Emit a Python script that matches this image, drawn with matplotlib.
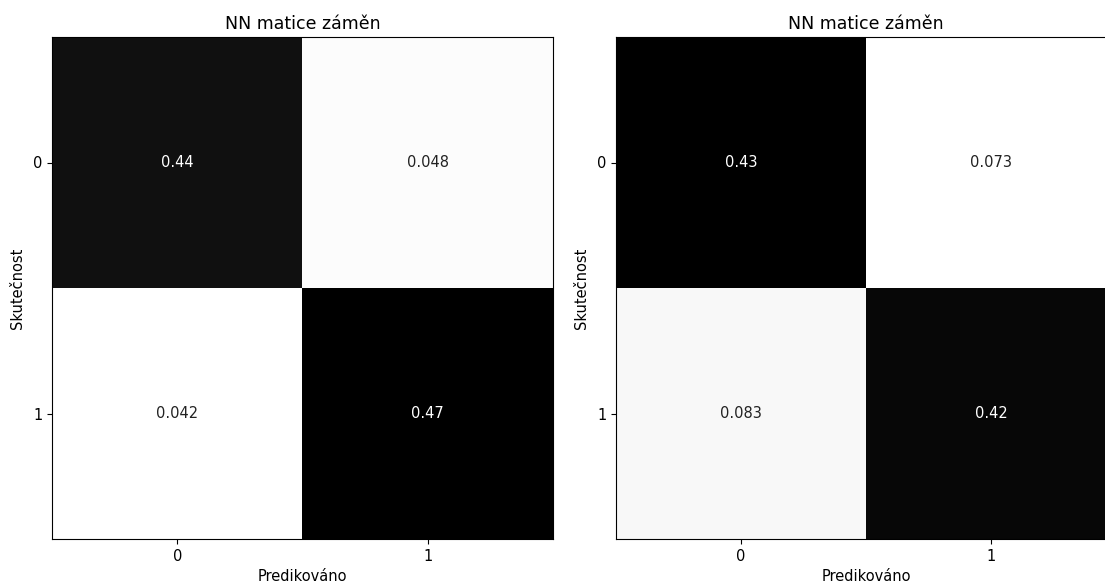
import numpy as np
import matplotlib
matplotlib.use('Agg')
import matplotlib.pyplot as plt

labels = ['0', '1']
# normalized confusion matrices (rows = actual, cols = predicted)
cm_left = np.array([[0.44, 0.048],
                    [0.042, 0.47]])
cm_right = np.array([[0.43, 0.073],
                     [0.083, 0.42]])
title = 'NN matice záměn'

plt.rcParams['font.size'] = 10.5

fig = plt.figure(figsize=(11.05, 5.86), dpi=100)
ax1 = fig.add_axes([52 / 1105, 47 / 586, 501 / 1105, 502 / 586])
ax2 = fig.add_axes([616 / 1105, 47 / 586, 500 / 1105, 502 / 586])

cmap = plt.get_cmap('gray_r')
for ax, cm in zip([ax1, ax2], [cm_left, cm_right]):
    ax.imshow(cm, cmap=cmap, aspect='auto', interpolation='nearest')
    thresh = (cm.min() + cm.max()) / 2
    for i in range(cm.shape[0]):
        for j in range(cm.shape[1]):
            col = cmap(0.0) if cm[i, j] > thresh else '#222222'
            ax.text(j, i, format(cm[i, j], '.2g'), ha='center', va='center',
                    color=col, fontsize=10.5)
    ax.set_xticks(range(len(labels)))
    ax.set_xticklabels(labels)
    ax.set_yticks(range(len(labels)))
    ax.set_yticklabels(labels)
    ax.set_xlabel('Predikováno', labelpad=4)
    ax.set_ylabel('Skutečnost', labelpad=6)
    ax.set_title(title, fontsize=12.5)

fig.savefig('out.png', dpi=100)
